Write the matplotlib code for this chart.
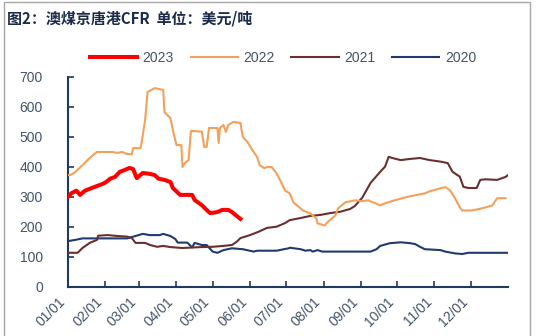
import matplotlib
matplotlib.use("Agg")
import matplotlib.pyplot as plt
from matplotlib.patches import Rectangle

plt.rcParams['font.family'] = ['Liberation Sans', 'Noto Sans CJK SC', 'DejaVu Sans']

# day of year (0 = 01/01) and price, USD/t
d2023 = [0, 3, 7, 10, 14, 21, 29, 32, 35, 39, 43, 47, 51, 54, 57, 60, 62, 68, 72, 75,
         80, 85, 87, 93, 103, 105, 111, 115, 118, 124, 128, 133, 136, 139, 143]
v2023 = [300, 312, 320, 306, 320, 331, 343, 350, 360, 366, 383, 389, 396, 392, 362, 372, 379, 376, 372, 360,
         356, 349, 329, 306, 306, 289, 272, 256, 245, 249, 256, 256, 249, 239, 226]

d2022 = [0, 2, 6, 12, 18, 24, 37, 41, 45, 49, 53, 54, 60, 61, 64, 66, 72, 79, 80, 85,
         87, 90, 94, 95, 97, 100, 102, 111, 113, 115, 117, 124, 125, 126, 129, 131, 133, 137, 143, 145,
         149, 153, 157, 159, 163, 165, 169, 173, 176, 178, 180, 184, 187, 190, 195, 201, 206, 207, 213, 215,
         217, 222, 224, 230, 238, 244, 249, 255, 259, 263, 271, 280, 288, 296, 300, 309, 313, 317, 321, 325,
         327, 334, 340, 346, 352, 356, 363]
v2022 = [372, 372, 382, 405, 429, 449, 449, 446, 449, 442, 442, 462, 462, 479, 556, 649, 662, 656, 582, 562,
         522, 472, 472, 399, 412, 422, 519, 517, 466, 466, 529, 529, 479, 529, 539, 516, 539, 549, 546, 499,
         482, 455, 432, 405, 395, 399, 399, 378, 355, 338, 321, 311, 281, 271, 254, 244, 228, 211, 204, 214,
         221, 238, 261, 281, 288, 285, 288, 278, 271, 278, 288, 298, 305, 311, 318, 328, 332, 321, 295, 265,
         254, 254, 258, 264, 271, 295, 295]

d2021 = [0, 8, 12, 18, 24, 25, 33, 41, 49, 53, 56, 64, 68, 74, 79, 85, 95, 110, 120, 129,
         136, 140, 143, 151, 158, 165, 173, 180, 184, 193, 201, 209, 217, 226, 234, 238, 241, 244, 251, 259,
         263, 266, 269, 276, 284, 292, 300, 309, 315, 319, 323, 325, 328, 332, 339, 342, 346, 356, 363, 365]
v2021 = [113, 113, 129, 146, 156, 170, 172, 169, 167, 162, 146, 146, 139, 133, 136, 132, 129, 132, 133, 136,
         139, 150, 162, 172, 183, 196, 200, 212, 222, 229, 236, 239, 245, 250, 259, 269, 283, 296, 346, 383,
         400, 433, 429, 422, 426, 429, 422, 417, 412, 383, 372, 367, 333, 329, 329, 356, 358, 356, 366, 372]

d2020 = [0, 6, 12, 35, 49, 56, 62, 68, 76, 79, 85, 89, 91, 99, 103, 105, 111, 115, 120, 124,
         129, 136, 145, 154, 157, 173, 183, 184, 193, 197, 201, 203, 207, 211, 251, 256, 259, 267, 276, 284,
         288, 292, 296, 309, 313, 321, 327, 332, 365]
v2020 = [152, 156, 161, 161, 161, 169, 176, 172, 172, 176, 169, 159, 147, 147, 131, 146, 139, 139, 117, 113,
         122, 128, 125, 117, 120, 120, 128, 130, 125, 120, 122, 117, 122, 117, 117, 125, 136, 145, 148, 145,
         142, 133, 125, 122, 117, 111, 109, 113, 113]

month_days = [0, 31, 59, 90, 120, 151, 181, 212, 243, 273, 304, 334]
month_labels = ['01/01', '02/01', '03/01', '04/01', '05/01', '06/01',
                '07/01', '08/01', '09/01', '10/01', '11/01', '12/01']

navy = '#1F3864'
txt = '#44546A'

fig = plt.figure(figsize=(5.36, 3.36), dpi=100)
ax = fig.add_axes([68/536, 1-286.7/336, 440/536, 210/336])

ax.plot(d2020, v2020, color='#1F3A6E', lw=1.5, label='2020', zorder=2)
ax.plot(d2021, v2021, color='#6B2F2F', lw=1.5, label='2021', zorder=3)
ax.plot(d2022, v2022, color='#F4A05A', lw=1.5, label='2022', zorder=4)
ax.plot(d2023, v2023, color='#FF0000', lw=2.9, label='2023', zorder=5)

ax.set_xlim(0, 365)
ax.set_ylim(0, 700)
ax.set_yticks(range(0, 701, 100))
ax.set_xticks(month_days)
ax.set_xticklabels(month_labels, rotation=45, ha='right', va='top')

for s in ['top', 'right']:
    ax.spines[s].set_visible(False)
for s in ['left', 'bottom']:
    ax.spines[s].set_color(navy)
    ax.spines[s].set_linewidth(1.5)

ax.tick_params(axis='both', direction='in', length=4, width=1.2, color=navy,
               labelcolor=txt)
ax.tick_params(axis='y', pad=18, labelsize=10)
ax.tick_params(axis='x', pad=6, labelsize=10)

handles, labels = ax.get_legend_handles_labels()
order = [3, 2, 1, 0]
fig.legend([handles[i] for i in order], [labels[i] for i in order],
           loc='center', bbox_to_anchor=(283/536, 1-58/336), ncol=4, frameon=False,
           fontsize=10, handlelength=3.4, handletextpad=0.4, columnspacing=1.2,
           labelcolor=txt)

fig.text(7/536, 1-18/336, '图2：澳煤京唐港CFR  单位：美元/吨', fontsize=10.8, fontweight='bold',
         color='#1A2B4C', va='center', ha='left', family=['Noto Sans CJK SC', 'DejaVu Sans'])

fig.patches.append(Rectangle((4/536, -0.05), 526/536, 1.05 - 1.5/336, transform=fig.transFigure,
                             fill=False, edgecolor='#A6A6A6', lw=1))

fig.savefig('out.png', dpi=100)
